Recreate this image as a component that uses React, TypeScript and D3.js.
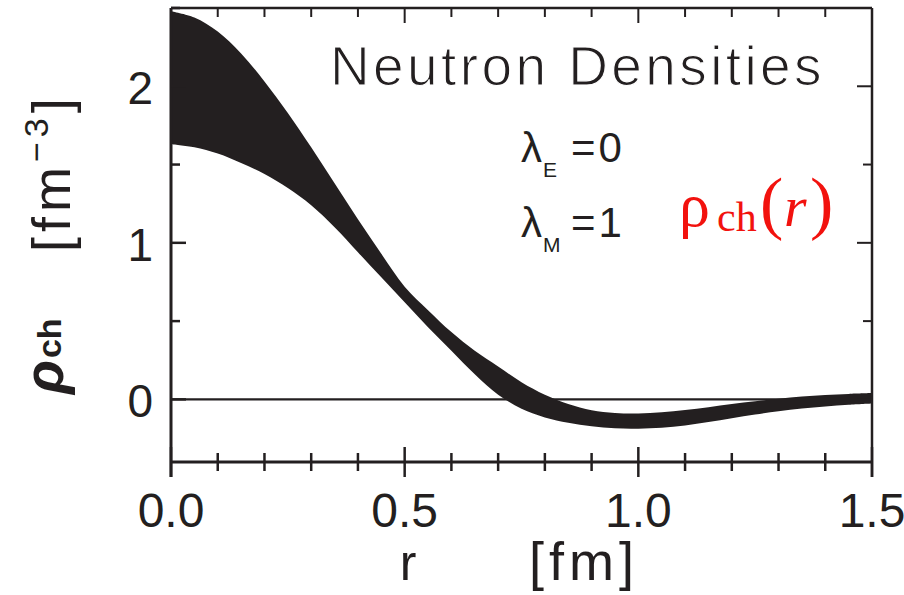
import { useEffect, useRef } from "react";
import * as d3 from "d3";

// r grid [fm] and the two edges of the density band
const radius = [
  0, 0.05, 0.1, 0.15, 0.2, 0.25, 0.3, 0.35, 0.4, 0.45, 0.5, 0.55, 0.6, 0.65, 0.7, 0.75,
  0.8, 0.85, 0.9, 0.95, 1.0, 1.05, 1.1, 1.15, 1.2, 1.25, 1.3, 1.35, 1.4, 1.45, 1.5,
];
const upperDensity = [
  2.48, 2.44, 2.35, 2.21, 2.03, 1.83, 1.61, 1.38, 1.15, 0.93, 0.72, 0.57, 0.43, 0.31, 0.21, 0.11,
  0.03, -0.03, -0.07, -0.087, -0.09, -0.083, -0.068, -0.05, -0.03, -0.012, 0.004, 0.018, 0.028,
  0.035, 0.04,
];
const lowerDensity = [
  1.63, 1.61, 1.57, 1.51, 1.44, 1.35, 1.24, 1.1, 0.94, 0.78, 0.62, 0.46, 0.31, 0.16, 0.03, -0.06,
  -0.115, -0.15, -0.172, -0.185, -0.187, -0.182, -0.167, -0.145, -0.12, -0.097, -0.076, -0.058,
  -0.045, -0.034, -0.026,
];

const xTickLabels = ["0.0", "0.5", "1.0", "1.5"];
const yTickLabels = ["0", "1", "2"];

const W = 904, H = 595;
const INK = "#231f20";

export default function App() {
  const svgRef = useRef<SVGSVGElement>(null);

  useEffect(() => {
    const svg = d3.select(svgRef.current);
    svg.selectAll("*").remove();

    const left = 171, right = 872, top = 8, bottom = 462;
    const x = d3.scaleLinear().domain([0, 1.5]).range([left, right]);
    const y = d3.scaleLinear().domain([-0.4, 2.5]).range([bottom, top]);

    const band = radius.map((r, i) => ({ r, hi: upperDensity[i], lo: lowerDensity[i] }));

    const area = d3.area<{ r: number; hi: number; lo: number }>()
      .x(d => x(d.r))
      .y0(d => y(d.lo))
      .y1(d => y(d.hi))
      .curve(d3.curveCatmullRom);

    // zero line
    svg.append("line")
      .attr("x1", left).attr("x2", right)
      .attr("y1", y(0)).attr("y2", y(0))
      .attr("stroke", INK).attr("stroke-width", 2.2);

    svg.append("path").datum(band).attr("d", area).attr("fill", INK);

    // frame
    const g = svg.append("g").attr("stroke", INK).attr("fill", "none");
    g.append("line").attr("x1", left).attr("x2", right).attr("y1", top).attr("y2", top).attr("stroke-width", 2.5);
    g.append("line").attr("x1", right).attr("x2", right).attr("y1", top).attr("y2", bottom + 15).attr("stroke-width", 2.5);
    g.append("line").attr("x1", left).attr("x2", left).attr("y1", top).attr("y2", bottom + 15).attr("stroke-width", 3);
    g.append("line").attr("x1", left).attr("x2", right).attr("y1", bottom).attr("y2", bottom).attr("stroke-width", 3);

    const isMajor = (v: number, step: number) => Math.abs(v / step - Math.round(v / step)) < 1e-6;

    // x ticks: cross the bottom axis, inward on top
    x.ticks(15).forEach(v => {
      const len = isMajor(v, 0.5) ? 15 : 9;
      g.append("line").attr("x1", x(v)).attr("x2", x(v))
        .attr("y1", bottom - len).attr("y2", bottom + len).attr("stroke-width", 2.5);
      g.append("line").attr("x1", x(v)).attr("x2", x(v))
        .attr("y1", top).attr("y2", top + len).attr("stroke-width", 2);
    });

    // y ticks: inward on both sides
    d3.range(0, 2.51, 0.5).forEach(v => {
      const len = isMajor(v, 1) ? 15 : 9;
      g.append("line").attr("x1", left).attr("x2", left + len)
        .attr("y1", y(v)).attr("y2", y(v)).attr("stroke-width", 2.5);
      g.append("line").attr("x1", right - len).attr("x2", right)
        .attr("y1", y(v)).attr("y2", y(v)).attr("stroke-width", 2);
    });

    const font = "'Liberation Sans', Arial, sans-serif";

    xTickLabels.forEach(t => {
      svg.append("text")
        .attr("x", x(+t)).attr("y", 527)
        .attr("text-anchor", "middle")
        .attr("font-family", font).attr("font-size", 48)
        .attr("fill", INK).text(t);
    });

    yTickLabels.forEach(t => {
      svg.append("text")
        .attr("x", 153).attr("y", y(+t) + 18)
        .attr("text-anchor", "end")
        .attr("font-family", font).attr("font-size", 46)
        .attr("fill", INK).text(t);
    });

    // x axis title
    svg.append("text").attr("x", 408).attr("y", 580).attr("text-anchor", "middle")
      .attr("font-family", font).attr("font-size", 50).attr("fill", INK).text("r");
    svg.append("text").attr("x", 529).attr("y", 580)
      .attr("font-family", font).attr("font-size", 54).attr("letter-spacing", 5)
      .attr("fill", INK).text("[fm]");

    // y axis title (rotated)
    const yl = svg.append("text")
      .attr("transform", "translate(63,394) rotate(-90)")
      .attr("font-family", font).attr("fill", INK);
    yl.append("tspan").attr("font-size", 56).attr("font-weight", "bold").attr("font-style", "italic").text("ρ");
    yl.append("tspan").attr("font-size", 34).attr("font-weight", "bold").attr("dx", 2).attr("dy", -2).text("ch");

    const yu = svg.append("text")
      .attr("transform", "translate(70,252) rotate(-90)")
      .attr("font-family", font).attr("font-size", 54).attr("letter-spacing", 5).attr("fill", INK);
    yu.append("tspan").text("[fm");
    yu.append("tspan").attr("font-size", 34).attr("dy", -22).text("−3");
    yu.append("tspan").attr("dy", 22).text("]");

    // annotations
    svg.append("text").attr("x", 330).attr("y", 85)
      .attr("font-family", font).attr("font-size", 55).attr("letter-spacing", 3.4)
      .attr("fill", INK).attr("stroke", "#fff").attr("stroke-width", 1.2)
      .attr("paint-order", "normal")
      .text("Neutron Densities");

    const lambda = (label: string, sub: string, yb: number) => {
      svg.append("text").attr("x", 521).attr("y", yb)
        .attr("font-family", font).attr("font-size", 42).attr("fill", INK).text("λ");
      svg.append("text").attr("x", 543).attr("y", yb + 15)
        .attr("font-family", font).attr("font-size", 21).attr("fill", INK).text(sub);
      svg.append("text").attr("x", 571).attr("y", yb)
        .attr("font-family", font).attr("font-size", 42).attr("letter-spacing", 3)
        .attr("fill", INK).text(label);
    };
    lambda("=0", "E", 162);
    lambda("=1", "M", 237);

    const red = "#f2120e";
    const serif = "'Liberation Serif', 'Times New Roman', serif";
    svg.append("text").attr("x", 679).attr("y", 226)
      .attr("font-family", serif).attr("font-size", 62).attr("fill", red).text("ρ");
    svg.append("text").attr("x", 717).attr("y", 231)
      .attr("font-family", serif).attr("font-size", 42).attr("fill", red).text("ch");
    svg.append("text").attr("x", 760).attr("y", 226)
      .attr("font-family", serif).attr("font-size", 70).attr("fill", red).text("(");
    svg.append("text").attr("x", 784).attr("y", 226)
      .attr("font-family", serif).attr("font-size", 58).attr("font-style", "italic").attr("fill", red).text("r");
    svg.append("text").attr("x", 810).attr("y", 226)
      .attr("font-family", serif).attr("font-size", 70).attr("fill", red).text(")");
  }, []);

  return (
    <svg
      ref={svgRef}
      width={W}
      height={H}
      style={{ position: "absolute", left: 0, top: 0, background: "#fff" }}
    />
  );
}
